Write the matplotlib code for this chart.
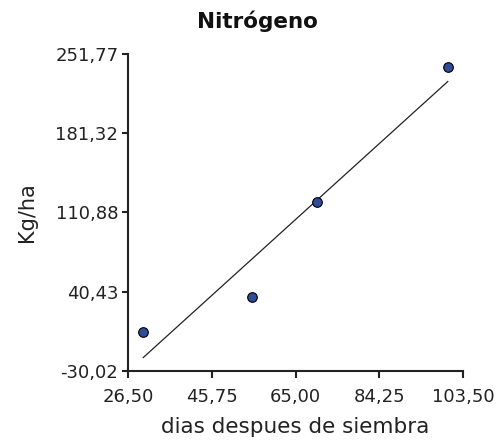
import numpy as np
import matplotlib
matplotlib.use("Agg")
import matplotlib.pyplot as plt
from matplotlib.ticker import FixedLocator, FixedFormatter

# Data
dias = [30, 55, 70, 100]
nitrogeno = [4.4, 36.0, 120.0, 240.5]
x_ticks = [26.50, 45.75, 65.00, 84.25, 103.50]
x_tick_labels = ["26,50", "45,75", "65,00", "84,25", "103,50"]
y_ticks = [-30.02, 40.43, 110.88, 181.32, 251.77]
y_tick_labels = ["-30,02", "40,43", "110,88", "181,32", "251,77"]

plt.rcParams['font.family'] = ['DejaVu Sans']

fig = plt.figure(figsize=(4.98, 4.47), dpi=100)
ax = fig.add_axes([128/498, 1-371/447, (463-128)/498, (371-54)/447])

# regression line
coef = np.polyfit(dias, nitrogeno, 1)
xl = np.array([min(dias), max(dias)])
ax.plot(xl, np.polyval(coef, xl), color='#222222', lw=0.9, zorder=2)

ax.scatter(dias, nitrogeno, s=48, color='#304c98', edgecolors='black',
           linewidths=0.8, zorder=3, clip_on=False)

ax.set_xlim(x_ticks[0], x_ticks[-1])
ax.set_ylim(y_ticks[0], y_ticks[-1])
ax.xaxis.set_major_locator(FixedLocator(x_ticks))
ax.xaxis.set_major_formatter(FixedFormatter(x_tick_labels))
ax.yaxis.set_major_locator(FixedLocator(y_ticks))
ax.yaxis.set_major_formatter(FixedFormatter(y_tick_labels))

for s in ['top', 'right']:
    ax.spines[s].set_visible(False)
for s in ['left', 'bottom']:
    ax.spines[s].set_linewidth(1.5)
    ax.spines[s].set_color('#222222')

ax.tick_params(axis='x', length=5, width=1.5, pad=7, labelsize=13,
               colors='#222222')
ax.tick_params(axis='y', length=4, width=1.5, pad=3, labelsize=13,
               colors='#222222')

ax.set_xlabel("dias despues de siembra", fontsize=15.5, labelpad=8,
              color='#222222')
ax.set_ylabel("Kg/ha", fontsize=15, labelpad=13, color='#222222')
fig.text(257/498, 1-21/447, "Nitrógeno", fontsize=15.5, fontweight='bold',
         ha='center', va='center', color='#111111')

fig.savefig("out.png", dpi=100)
